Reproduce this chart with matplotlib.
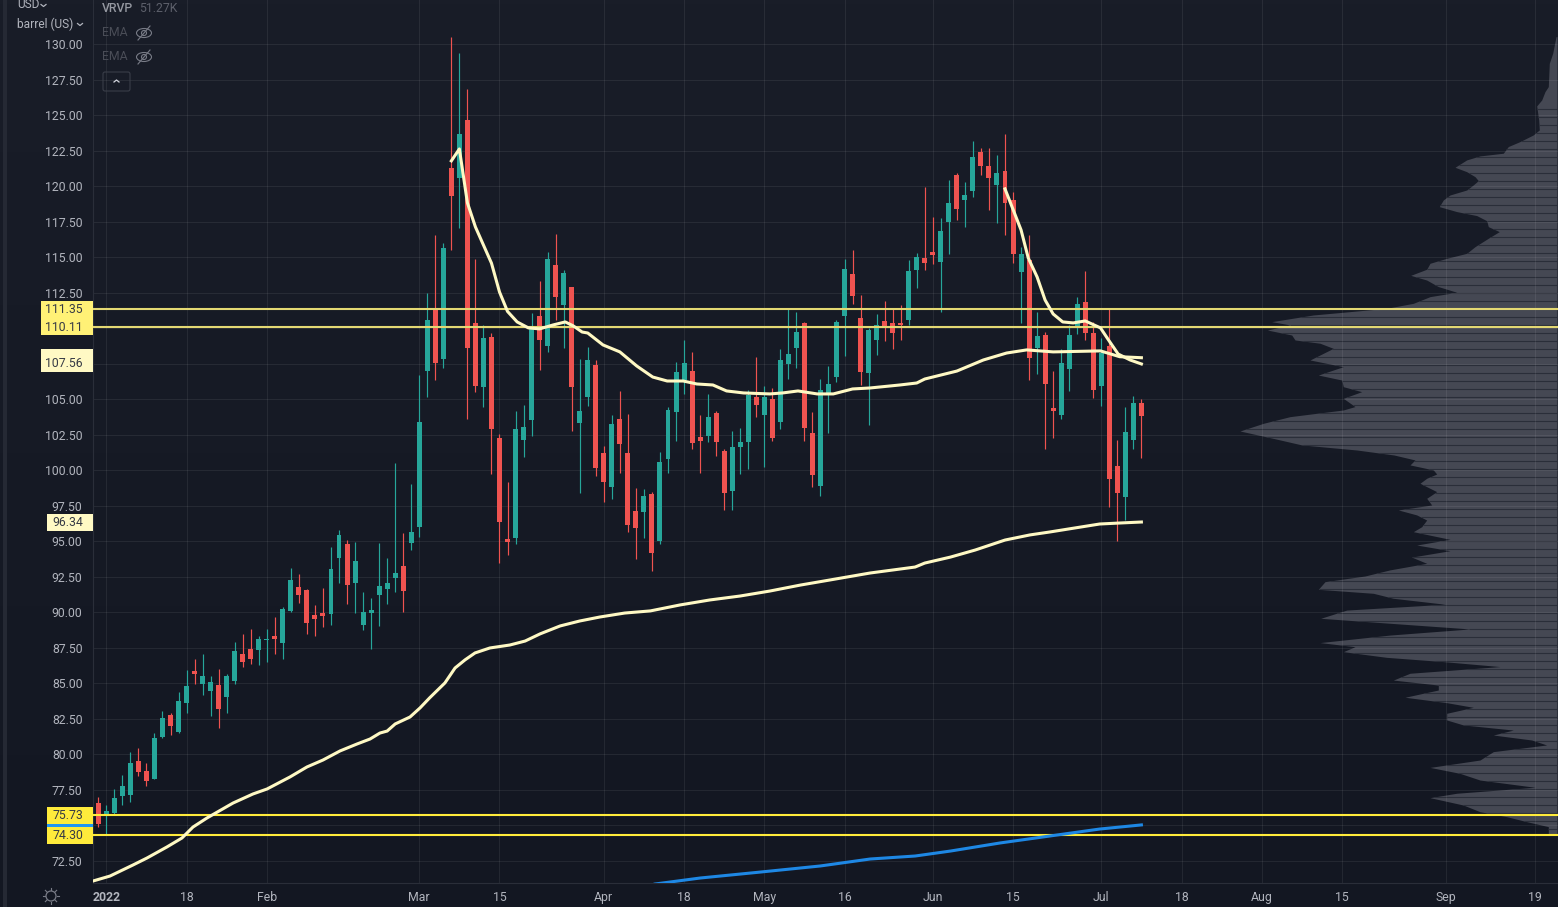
import numpy as np
import matplotlib
matplotlib.use("Agg")
import matplotlib.pyplot as plt
from matplotlib.colors import LinearSegmentedColormap
from matplotlib.patches import Rectangle, FancyBboxPatch, Ellipse, Circle

# candles, one per trading day
opens = [76.58,75.74,75.88,77.08,77.15,79.54,78.84,78.27,81.23,82.78,
         81.58,83.63,85.88,84.96,84.47,84.89,84.05,85.18,87.08,87.43,
         87.36,88.06,88.35,87.86,90.11,91.80,91.58,89.82,89.96,89.89,
         93.84,94.82,92.08,89.12,89.96,91.23,91.65,92.43,93.27,94.89,
         96.02,107.01,111.30,107.85,121.30,120.60,124.68,110.39,105.88,109.40,
         102.29,95.18,95.25,102.15,103.56,110.88,108.77,114.47,111.66,112.92,
         103.35,105.18,107.43,101.23,98.84,103.63,101.23,97.15,97.08,98.35,
         95.04,100.81,104.12,106.37,107.01,102.36,102.43,104.05,101.37,98.56,
         101.65,102.01,105.18,103.91,105.04,103.42,107.50,108.63,110.39,102.64,
         98.91,105.39,106.59,110.88,113.84,110.74,106.87,109.19,110.53,110.39,
         110.39,110.60,114.12,114.97,115.39,114.68,117.50,120.81,119.05,119.68,
         122.43,121.44,120.11,121.09,119.05,113.98,114.82,108.63,109.54,104.40,
         103.91,107.15,110.18,111.87,109.68,105.95,108.77,100.32,98.14,102.15,
         104.75]
highs = [77.03,76.44,77.55,78.56,80.18,80.46,79.40,81.51,83.06,82.92,
         84.40,85.95,86.73,87.08,85.53,86.02,85.67,87.92,88.49,88.84,
         88.35,88.84,89.68,90.39,93.13,92.71,91.65,90.53,91.73,94.61,
         95.81,95.11,94.96,91.44,91.02,94.89,93.84,100.53,95.60,99.05,
         106.73,112.50,116.59,116.02,130.53,129.40,126.87,114.89,110.25,109.68,
         102.57,99.19,104.19,104.61,111.09,113.35,115.39,116.65,114.12,112.92,
         107.85,108.70,107.78,101.73,103.91,105.60,103.98,98.77,98.70,98.49,
         101.30,104.47,107.64,109.19,108.33,103.91,105.39,104.19,101.51,102.78,
         103.00,105.67,107.99,105.95,105.81,108.56,111.37,111.16,110.46,104.12,
         106.44,107.36,110.60,114.89,115.53,112.36,110.04,111.02,111.94,111.44,
         111.66,114.82,115.32,119.96,117.85,117.78,120.46,120.95,120.32,123.20,
         122.71,122.71,122.22,123.70,119.61,115.74,116.59,111.16,109.75,107.01,
         108.56,110.25,112.22,114.05,110.46,109.33,111.44,102.15,104.47,105.25,
         105.04]
lows = [74.92,74.33,75.74,76.44,76.65,78.49,77.78,78.27,81.16,81.37,
        81.51,82.92,84.96,84.19,82.71,81.87,82.92,84.96,86.16,86.37,
        86.30,86.51,87.08,86.73,90.04,90.67,88.49,88.35,88.98,89.12,
        92.08,90.60,89.96,88.77,87.43,89.05,90.60,91.44,90.04,94.40,
        95.32,105.18,106.37,107.22,115.53,117.08,103.63,105.53,104.47,99.75,
        93.49,94.05,94.82,100.95,102.43,107.08,108.35,110.60,108.63,102.78,
        98.42,104.54,99.61,97.78,97.99,99.83,95.67,93.77,95.25,92.92,
        94.82,99.83,102.08,105.39,101.51,99.83,102.01,101.02,97.22,97.22,
        99.75,100.11,103.77,100.25,102.08,102.92,106.44,107.22,102.08,98.84,
        98.20,102.64,106.23,108.07,111.73,106.02,103.20,108.14,109.12,108.56,
        109.19,110.25,112.85,114.12,114.54,111.16,115.25,117.64,117.15,119.26,
        120.81,118.34,117.43,116.59,114.61,110.39,106.37,106.80,101.51,102.29,
        103.63,105.60,109.61,109.19,105.10,104.54,97.43,95.04,96.52,101.51,
        100.88]
closes = [75.10,76.02,76.94,77.78,79.40,78.77,78.13,81.16,82.57,82.00,
          83.77,84.82,85.67,85.53,85.11,83.20,85.53,87.29,86.51,86.73,
          88.13,88.13,88.13,90.25,92.29,91.23,89.26,89.54,89.75,93.06,
          95.46,91.94,93.63,90.04,90.18,91.87,92.08,92.78,91.51,95.67,
          103.42,110.60,107.57,115.67,119.33,123.70,108.63,105.95,109.33,102.92,
          96.37,94.96,102.92,103.06,110.18,109.19,114.89,112.22,113.91,105.88,
          104.19,107.78,100.18,99.19,103.27,101.87,96.16,95.95,98.21,94.19,
          100.60,104.26,106.94,107.57,101.94,102.08,103.77,102.01,98.42,101.65,
          102.01,105.30,104.61,105.18,102.29,107.78,108.20,109.75,102.99,99.68,
          105.67,106.09,110.46,114.19,112.29,106.94,109.90,110.25,110.11,109.68,
          110.25,114.05,115.04,114.61,115.18,116.87,118.84,118.42,119.40,122.08,
          121.44,120.60,120.95,118.84,115.25,115.25,107.92,109.47,106.09,104.19,
          107.57,109.54,111.73,109.68,105.67,108.27,99.40,98.42,102.71,104.75,
          103.84]

slow_bars = [-0.66,1.46,4.33,6.07,8.56,10.43,11.8,13.55,16.79,19.28,21.03,23.9,26,28,30.13,32.25,
             33.87,35.1,36,37,38.85,40.1,41.3,43.2,44.46,45.7,46.95,48.8,51.3,53.2,55.05,57.55,
             60,62.5,65.6,68.8,72.5,76.2,80,83.7,87.5,91.2,96.2,101.8,103,106.2,109.3,113,116.1,
             118.6,121.7,124.8,127.3,130]
slow_vals = [71.09,71.44,72.22,72.71,73.49,74.12,74.89,75.53,76.58,77.22,77.57,78.42,79.12,79.61,80.25,80.74,
             81.09,81.51,81.65,82.15,82.64,83.28,83.99,85.04,86.09,86.66,87.15,87.5,87.71,87.99,88.49,89.05,
             89.4,89.68,89.96,90.11,90.53,90.88,91.16,91.51,91.93,92.29,92.78,93.2,93.48,93.9,94.4,95.1,95.46,
             95.67,95.95,96.23,96.3,96.37]
mid_bars = [44,45,46,47,49,50,51,52.2,53.6,55,56.7,58.2,59.2,60.3,61,62.9,65,67.1,69.1,70.9,72.9,74.6,76.6,78.3,
            80.4,83.7,85.3,87.2,89.6,91.6,94,96.2,99.9,102,103,107,110.3,113.2,115.7,119,124.9,127.3,130]
mid_vals = [121.8,122.64,118.85,117.15,114.6,112.57,111.2,110.46,110.04,109.97,110.25,110.46,110.18,109.75,109.68,108.84,
            108.35,107.36,106.58,106.3,106.3,106.09,106.02,105.6,105.46,105.39,105.46,105.6,105.39,105.39,105.74,
            105.81,106.02,106.16,106.44,107,107.78,108.27,108.49,108.35,108.42,108.01,107.94]
fast_bars = [113,115,115.9,117,118,119,120.2,121.5,123,124.9,125.9,127.1,128.6,130]
fast_vals = [119.83,116.94,114.96,113.63,112,111.02,110.46,110.39,110.53,110.04,109.19,108.2,107.78,107.5]
blue_bars = [69.4,75,82.5,90,96.2,101.8,106.2,112.4,118.6,124.8,130]
blue_vals = [70.88,71.3,71.72,72.15,72.64,72.85,73.2,73.77,74.26,74.75,75.04]

# horizontal levels
pale_levels = [111.35, 110.11]
bright_levels = [75.73, 74.30]

# volume profile outline
vp_price = [130.55,129.38,128.67,127.03,126.68,126.09,125.67,124.68,123.98,123.63,123.16,122.81,122.34,122.15,
            121.87,121.35,121.04,120.69,120.41,120.11,119.75,119.4,119.05,118.58,118.23,117.95,117.59,117.17,
            116.82,116.35,115.76,115.29,114.94,114.59,114.17,113.74,113.41,112.95,112.55,112.24,111.77,111.42,
            110.95,110.48,110.25,109.89,109.54,109.19,108.96,108.6,108.25,107.78,107.31,106.72,106.37,105.9,
            105.55,105.08,104.5,104.26,103.79,103.32,102.78,102.26,101.8,101.44,101.09,100.74,100.39,100.04,
            99.75,99.45,99.1,98.86,98.51,98.04,97.57,97.22,96.87,96.51,96.04,95.69,95.15,94.75,94.35,93.9,
            93.46,93.0,92.57,92.17,91.63,91.35,91.0,90.58,90.17,89.59,89.24,88.84,88.41,87.88,87.59,87.24,
            86.84,86.54,86.19,85.72,85.24,84.89,84.54,84.03,83.65,83.32,82.9,82.43,82.08,81.72,81.37,81.02,
            80.67,80.2,79.61,79.09,78.67,78.2,77.69,77.27,76.96,76.44,75.97,75.62,75.27,74.92,74.33]
vp_vol = [1,4.3,7.7,8.7,12,15.3,20.3,18.3,17.7,23.7,37,48.7,53.7,77,
          90.3,102,90.3,82,78.7,83.7,90.3,107,113.7,117.7,100.3,80.3,70.3,68.7,
          57.7,68.7,82,90.3,110.3,127,130.3,146.3,130.3,118.7,100.3,127,143.7,170.3,
          243.7,285.3,267,289.7,265.3,262,237,223.7,233.7,247,213.7,238.7,215.3,213.7,
          195.3,213.7,202,213.7,267,293.7,317,283.7,255.3,200,163,142,147,123.7,
          120.3,130.3,137,130.3,120.3,130.3,125.3,158.7,140.3,130.3,135.3,143.7,107,140.3,107,145.3,
          130.3,167,192,232,238.7,183.7,163.7,112,210.3,236.3,167,87,167,237,202,213.7,
          170.3,113.7,57,147,163.7,118.7,118.7,152,110.3,83.7,110.3,110.3,93.7,43.7,63.7,25.3,
          10.3,63.7,77,127,97,77,22,100.3,127,93.7,77,50.3,30.3,8.7,8.7]

# axis labels
price_ticks = [72.5 + 2.5 * k for k in range(24)]
date_ticks = [1, 11, 21, 40, 50, 63, 73, 83, 93, 104, 114, 125, 135, 145, 155, 168, 179]
date_labels = ["2022", "18", "Feb", "Mar", "15", "Apr", "18", "May", "16", "Jun", "15", "Jul",
               "18", "Aug", "15", "Sep", "19"]

# price tags on the left scale, later ones cover earlier ones
# the 75.04 and 107.94 tags are almost fully hidden, so they carry no text
tag_vals = [75.04, 75.73, 74.30, 111.35, 110.11, 107.94, 107.56, 96.34]
tag_cols = ["#2196f3", "#ffeb3b", "#ffeb3b", "#fff176", "#fff176", "#fff9c4", "#fff9c4", "#fff9c4"]
tag_left = [47, 47, 47, 41, 41, 41, 41, 47]
tag_hidden = [75.04, 107.94]

UP = "#26a69a"
DOWN = "#ef5350"
TEXT = "#b2b5be"
W, H = 1558, 907
plt.rcParams["font.family"] = ["Roboto", "DejaVu Sans"]

fig = plt.figure(figsize=(W / 100, H / 100), dpi=100)
rect = [93 / W, 24 / H, (W - 93) / W, 883 / H]

# background gradient
bg = fig.add_axes([0, 0, 1, 1], zorder=0)
cmap = LinearSegmentedColormap.from_list("bg", ["#131722", "#191d28"])
bg.imshow(np.linspace(1, 0, 256).reshape(-1, 1), aspect="auto", cmap=cmap, extent=(0, 1, 0, 1))
bg.axis("off")

# volume profile sits under the price pane
vp = fig.add_axes(rect, zorder=1, facecolor="none")
vp.set_xlim(1464, -1)
vp.set_ylim(70.95, 133.13)
vp.axis("off")
vp.fill_betweenx(vp_price, 0, vp_vol, color="#454853", lw=0)
rows = np.arange(102.92 - 0.5634 * 50, 126, 0.5634)
rows = rows[rows > 74.4]
vp.hlines(rows, 0, np.interp(rows, vp_price[::-1], vp_vol[::-1]), color="#2a2e39", lw=0.8)

ax = fig.add_axes(rect, zorder=2, facecolor="none")
ax.set_xlim(-0.66, 181.92)
ax.set_ylim(70.95, 133.13)
ax.grid(True, color="white", alpha=0.07, lw=0.8)
ax.set_axisbelow(True)

bars = np.arange(len(opens))
colors = [UP if c >= o else DOWN for o, c in zip(opens, closes)]
ax.vlines(bars, lows, highs, color=colors, lw=0.85, zorder=2)
ax.bar(bars, np.array(closes) - np.array(opens), bottom=opens, width=0.62, color=colors, lw=0, zorder=3)

for lev in pale_levels:
    ax.axhline(lev, color="#e3d873", lw=1.5, zorder=4)
for lev in bright_levels:
    ax.axhline(lev, color="#ffeb3b", lw=1.5, zorder=4)

ax.plot(slow_bars, slow_vals, color="#fff9c4", lw=2.2, zorder=5)
ax.plot(mid_bars, mid_vals, color="#fff9c4", lw=2.2, zorder=5)
ax.plot(fast_bars, fast_vals, color="#fff9c4", lw=2.2, zorder=5)
ax.plot(blue_bars, blue_vals, color="#1e88e5", lw=2.2, zorder=5)

ax.set_yticks(price_ticks)
ax.set_yticklabels(["%.2f" % p for p in price_ticks])
ax.set_xticks(date_ticks)
ax.set_xticklabels(date_labels)
ax.tick_params(axis="y", length=0, pad=7.5, labelsize=8.8, labelcolor=TEXT)
ax.tick_params(axis="x", length=0, pad=5.5, labelsize=8.8, labelcolor=TEXT)
ax.get_xticklabels()[0].set_fontweight("bold")
for s in ["top", "right"]:
    ax.spines[s].set_visible(False)
for s in ["left", "bottom"]:
    ax.spines[s].set_color("#2a2e39")
    ax.spines[s].set_linewidth(0.8)

# tick labels that the tags cover in the original
for lab, p in zip(ax.get_yticklabels(), price_ticks):
    if p in (75.0, 107.5, 110.0):
        lab.set_visible(False)

# chrome in pixel coordinates
ui = fig.add_axes([0, 0, 1, 1], zorder=5, facecolor="none")
ui.set_xlim(0, W)
ui.set_ylim(H, 0)
ui.axis("off")

fig.canvas.draw()
def price_px(v):
    return H - ax.transData.transform((0, v))[1]

ui.add_patch(Rectangle((3, 0), 4, H, color="#252934", lw=0))

for n, (val, col, left) in enumerate(zip(tag_vals, tag_cols, tag_left)):
    y = price_px(val)
    ui.add_patch(Rectangle((left, y - 8.5), 93 - left, 17, color=col, lw=0, zorder=3 + 2 * n))
    if val not in tag_hidden:
        ui.text(83, y + 0.5, "%.2f" % val, ha="right", va="center", fontsize=8.8,
                color="#363a45", zorder=4 + 2 * n)

def caret(x, y, up=False, col=TEXT):
    d = -2 if up else 2
    ui.plot([x - 2.5, x, x + 2.5], [y - d / 2, y + d / 2, y - d / 2], color=col, lw=0.9)

ui.text(17, 5, "USD", va="center", fontsize=8.6, color=TEXT)
caret(43.5, 5.5)
ui.text(17, 24, "barrel (US)", va="center", fontsize=8.6, color=TEXT)
caret(80, 24.5)

ui.text(102, 9, "VRVP", va="center", fontsize=8.8, color="#9598a1", fontweight="medium")
ui.text(139, 9, "51.27K", va="center", fontsize=8.8, color="#5d606b")

for y in [33, 57]:
    ui.text(102, y, "EMA", va="center", fontsize=8.8, color="#4a4d57")
    ui.add_patch(Ellipse((144, y), 15, 9, fc="none", ec="#787b86", lw=0.8))
    ui.add_patch(Circle((144, y), 2.5, fc="none", ec="#787b86", lw=0.8))
    ui.plot([138, 150], [y + 7, y - 7], color="#787b86", lw=0.8)

ui.add_patch(FancyBboxPatch((103, 72), 27, 19, boxstyle="round,pad=0,rounding_size=2",
                            fc="none", ec="#3a3e49", lw=0.8))
caret(116.5, 81, up=True, col="#d1d4dc")

# sun icon in the time scale corner
ui.add_patch(Circle((51, 896), 5, fc="none", ec="#787b86", lw=0.9))
for a in np.arange(0, 2 * np.pi, np.pi / 4):
    ui.plot([51 + 6 * np.cos(a), 51 + 8 * np.cos(a)], [896 + 6 * np.sin(a), 896 + 8 * np.sin(a)],
            color="#787b86", lw=0.8)

fig.savefig("out.png", dpi=100)
